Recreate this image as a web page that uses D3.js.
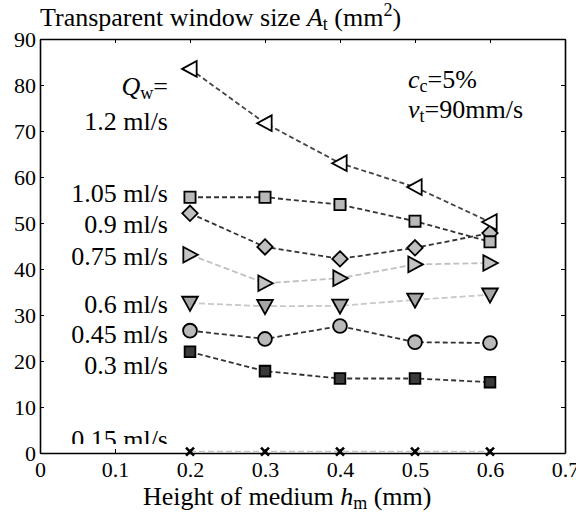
<!DOCTYPE html>
<html>
<head>
<meta charset="utf-8">
<script src="https://cdn.jsdelivr.net/npm/d3@7/dist/d3.min.js"></script>
<style>
  html, body { margin: 0; padding: 0; background: #fff; }
  svg { display: block; }
  svg text { font-family: "Liberation Serif", "DejaVu Serif", serif; }
</style>
</head>
<body>
<svg id="chart" width="576" height="517" font-family="Liberation Serif, DejaVu Serif, serif"></svg>
<script>
// Medium height (mm) at which each flow rate was measured
const heights = [0.2, 0.3, 0.4, 0.5, 0.6];

// Transparent window size A_t (mm^2) for each water flow rate Q_w
const area015 = [0.3, 0.3, 0.3, 0.3, 0.3];
const area030 = [22.0, 17.8, 16.2, 16.2, 15.4];
const area045 = [26.6, 24.8, 27.6, 24.1, 23.9];
const area060 = [32.6, 31.9, 32.0, 33.3, 34.4];
const area075 = [43.1, 36.9, 38.0, 41.0, 41.3];
const area090 = [52.1, 44.8, 42.2, 44.6, 47.8];
const area105 = [55.6, 55.6, 54.0, 50.4, 45.9];
const area120 = [83.5, 71.7, 63.0, 57.8, 50.2];

const flowLabels = ["0.15 ml/s", "0.3 ml/s", "0.45 ml/s", "0.6 ml/s", "0.75 ml/s", "0.9 ml/s", "1.05 ml/s", "1.2 ml/s"];

const xTicks = [0, 0.1, 0.2, 0.3, 0.4, 0.5, 0.6, 0.7];
const yTicks = [0, 10, 20, 30, 40, 50, 60, 70, 80, 90];

const SERIF = "Liberation Serif";
const BIG = 26, SUB = 18, TICK = 22;

// Marker shapes (D3 symbol types drawn around the origin)
const triangle = (dir) => ({
  draw(ctx, size) {
    const r = Math.sqrt(size) * 0.62;
    const pts = {
      left:  [[-r, 0], [r * 0.85, -r], [r * 0.85, r]],
      right: [[r, 0], [-r * 0.85, -r], [-r * 0.85, r]],
      down:  [[0, r], [-r, -r * 0.8], [r, -r * 0.8]]
    }[dir];
    ctx.moveTo(pts[0][0], pts[0][1]);
    ctx.lineTo(pts[1][0], pts[1][1]);
    ctx.lineTo(pts[2][0], pts[2][1]);
    ctx.closePath();
  }
});
const diamond = {
  draw(ctx, size) {
    const r = Math.sqrt(size) * 0.62;
    ctx.moveTo(0, -r); ctx.lineTo(r, 0); ctx.lineTo(0, r); ctx.lineTo(-r, 0); ctx.closePath();
  }
};
const cross = {
  draw(ctx, size) {
    const r = Math.sqrt(size) * 0.5;
    ctx.moveTo(-r, -r); ctx.lineTo(r, r);
    ctx.moveTo(r, -r); ctx.lineTo(-r, r);
  }
};

const series = [
  { label: flowLabels[0], values: area015, symbol: cross, size: 64, fill: "none", line: "#c4c4c4", dash: "6,3" },
  { label: flowLabels[1], values: area030, symbol: d3.symbolSquare, size: 115, fill: "#3a3a3a", line: "#333", dash: "5,3" },
  { label: flowLabels[2], values: area045, symbol: d3.symbolCircle, size: 150, fill: "#b9b9b9", line: "#333", dash: "5,3" },
  { label: flowLabels[3], values: area060, symbol: triangle("down"), size: 160, fill: "#a6a6a6", line: "#c8c8c8", dash: "6,3" },
  { label: flowLabels[4], values: area075, symbol: triangle("right"), size: 160, fill: "#c4c4c4", line: "#c0c0c0", dash: "6,3" },
  { label: flowLabels[5], values: area090, symbol: diamond, size: 155, fill: "#c0c0c0", line: "#333", dash: "5,3" },
  { label: flowLabels[6], values: area105, symbol: d3.symbolSquare, size: 125, fill: "#b9b9b9", line: "#333", dash: "5,3" },
  { label: flowLabels[7], values: area120, symbol: triangle("left"), size: 160, fill: "#fff", line: "#444", dash: "5,3" }
];

const svg = d3.select("#chart");
const plotLeft = 40, plotRight = 565, plotTop = 39, plotBottom = 453;

const x = d3.scaleLinear().domain([0, 0.7]).range([plotLeft, plotRight]);
const y = d3.scaleLinear().domain([0, 90]).range([plotBottom, plotTop]);

// Frame with inward ticks on all four sides
const tickLen = 4;
const fmtX = d => d === 0 ? "0" : d3.format(".1f")(d);
const axisStyle = g => {
  g.attr("font-family", SERIF);
  g.selectAll(".domain").attr("stroke", "#000").attr("stroke-width", 1.6);
  g.selectAll(".tick line").attr("stroke", "#000").attr("stroke-width", 1);
};

svg.append("g").attr("transform", `translate(0,${plotBottom})`)
  .call(d3.axisBottom(x).tickValues(xTicks).tickFormat(fmtX).tickSizeInner(-tickLen).tickSizeOuter(0).tickPadding(8))
  .call(axisStyle)
  .call(g => g.selectAll("text").attr("font-size", TICK).attr("fill", "#000"));

svg.append("g").attr("transform", `translate(0,${plotTop})`)
  .call(d3.axisTop(x).tickValues(xTicks).tickFormat("").tickSizeInner(-tickLen).tickSizeOuter(0))
  .call(axisStyle);

svg.append("g").attr("transform", `translate(${plotLeft},0)`)
  .call(d3.axisLeft(y).tickValues(yTicks).tickSizeInner(-tickLen).tickSizeOuter(0).tickPadding(4))
  .call(axisStyle)
  .call(g => g.selectAll("text").attr("font-size", TICK).attr("fill", "#000"));

svg.append("g").attr("transform", `translate(${plotRight},0)`)
  .call(d3.axisRight(y).tickValues(yTicks).tickFormat("").tickSizeInner(-tickLen).tickSizeOuter(0))
  .call(axisStyle);

// Dashed connecting lines, then markers on top
const line = d3.line().x((d, i) => x(heights[i])).y(d => y(d));
const plot = svg.append("g");

series.forEach(s => {
  plot.append("path")
    .attr("d", line(s.values))
    .attr("fill", "none")
    .attr("stroke", s.line)
    .attr("stroke-width", 1.8)
    .attr("stroke-dasharray", s.dash);
});

series.forEach(s => {
  const sym = d3.symbol().type(s.symbol).size(s.size);
  plot.append("g").selectAll("path")
    .data(s.values)
    .join("path")
    .attr("transform", (d, i) => `translate(${x(heights[i])},${y(d)})`)
    .attr("d", sym)
    .attr("fill", s.fill)
    .attr("stroke", "#000")
    .attr("stroke-width", s.symbol === cross ? 2.6 : 1.8);
});

// Flow-rate labels beside the first point of each series
const labelX = 168;
const labelBase = { "1.2 ml/s": 130, "1.05 ml/s": 202, "0.9 ml/s": 233, "0.75 ml/s": 265,
                    "0.6 ml/s": 313, "0.45 ml/s": 343, "0.3 ml/s": 374, "0.15 ml/s": 448 };

svg.append("defs").append("clipPath").attr("id", "labelClip")
  .append("rect").attr("x", 0).attr("y", 0).attr("width", 576).attr("height", 444);

const labels = svg.append("g").attr("clip-path", "url(#labelClip)")
  .attr("font-family", SERIF).attr("font-size", BIG).attr("text-anchor", "end").attr("fill", "#000");

series.forEach(s => {
  labels.append("text").attr("x", labelX).attr("y", labelBase[s.label]).text(s.label);
});

const qw = labels.append("text").attr("x", labelX).attr("y", 95);
qw.append("tspan").attr("font-style", "italic").text("Q");
qw.append("tspan").attr("font-size", SUB).attr("dy", 4).text("w");
qw.append("tspan").attr("dy", -4).text("=");

// Test conditions
const cond = svg.append("g").attr("font-family", SERIF).attr("font-size", BIG).attr("fill", "#000");
const cc = cond.append("text").attr("x", 408).attr("y", 88);
cc.append("tspan").attr("font-style", "italic").text("c");
cc.append("tspan").attr("font-size", SUB).attr("dy", 4).text("c");
cc.append("tspan").attr("dy", -4).text("=5%");
const vt = cond.append("text").attr("x", 408).attr("y", 118);
vt.append("tspan").attr("font-style", "italic").text("v");
vt.append("tspan").attr("font-size", SUB).attr("dy", 4).text("t");
vt.append("tspan").attr("dy", -4).text("=90mm/s");

// Axis titles
const yTitle = svg.append("text").attr("font-family", SERIF).attr("x", 40).attr("y", 26).attr("font-size", BIG).attr("fill", "#000");
yTitle.append("tspan").text("Transparent window size ");
yTitle.append("tspan").attr("font-style", "italic").text("A");
yTitle.append("tspan").attr("font-size", SUB).attr("dy", 4).text("t");
yTitle.append("tspan").attr("dy", -4).text(" (mm");
yTitle.append("tspan").attr("font-size", SUB).attr("dy", -10).text("2");
yTitle.append("tspan").attr("dy", 10).text(")");

const xTitle = svg.append("text").attr("font-family", SERIF).attr("x", 143).attr("y", 505).attr("font-size", BIG).attr("fill", "#000");
xTitle.append("tspan").text("Height of medium ");
xTitle.append("tspan").attr("font-style", "italic").text("h");
xTitle.append("tspan").attr("font-size", SUB).attr("dy", 4).text("m");
xTitle.append("tspan").attr("dy", -4).text(" (mm)");
</script>
</body>
</html>
